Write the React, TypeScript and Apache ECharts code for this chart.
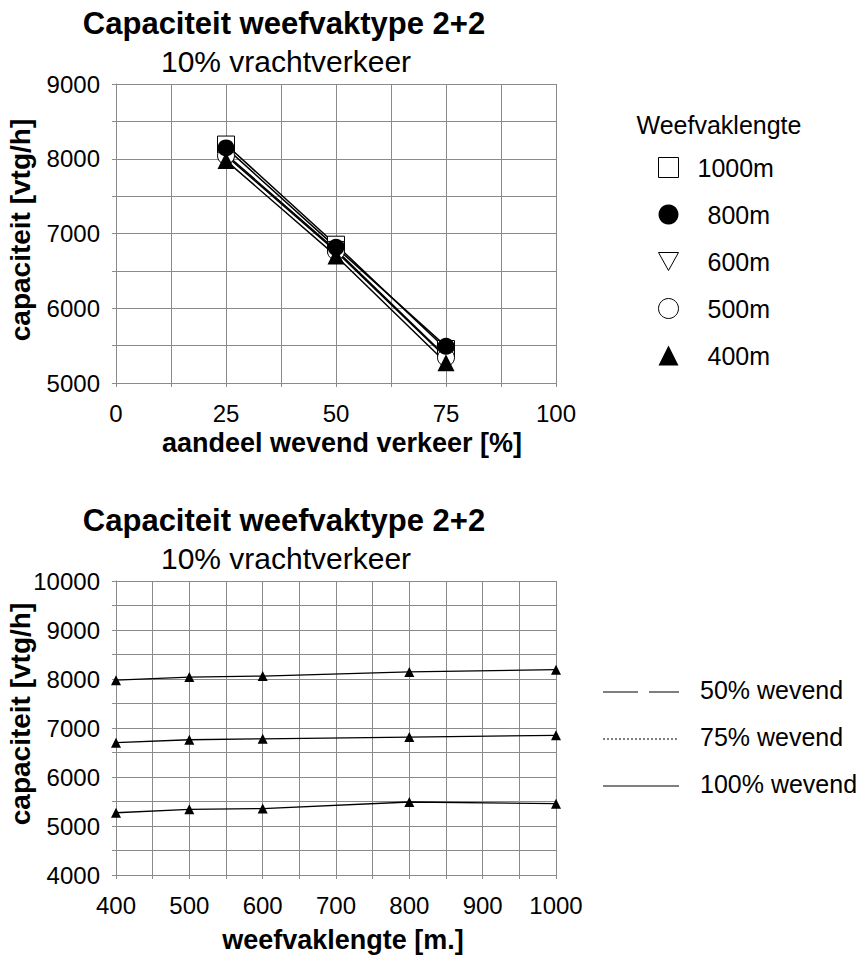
import React, { useEffect, useRef } from "react";
import * as echarts from "echarts";

// ---- data ----
const lengths = [400, 500, 600, 800, 1000]; // weefvaklengte [m]
const wevendShares = [25, 50, 75]; // aandeel wevend verkeer [%] (top chart x)
const cap50 = [7975, 8040, 8060, 8145, 8190]; // "50% wevend"
const cap75 = [6700, 6760, 6780, 6815, 6850]; // "75% wevend"
const cap100 = [5270, 5340, 5355, 5490, 5455]; // "100% wevend"
const wevendNames = ["50% wevend", "75% wevend", "100% wevend"];
const lengthNames = ["1000m", "800m", "600m", "500m", "400m"];
const lengthIdx = [4, 3, 2, 1, 0]; // index into lengths for each lengthNames item
const topXTicks = [0, 100, 25];
const topYTicks = [5000, 9000, 1000];
const botXTicks = [400, 1000, 100];
const botYTicks = [4000, 10000, 1000];

const FONT = "'Liberation Sans', Arial, sans-serif";
const GRID = "#8a8a8a";
const INV_TRI = "path://M0,0L10,0L5,9Z";

const symbolFor: Record<string, any> = {
  "1000m": { symbol: "rect", hollow: true, icon: "rect" },
  "800m": { symbol: "circle", hollow: false, icon: "circle" },
  "600m": { symbol: INV_TRI, hollow: true, icon: INV_TRI },
  "500m": { symbol: "circle", hollow: true, icon: "circle" },
  "400m": { symbol: "triangle", hollow: false, icon: "triangle" },
};

function styleFor(hollow: boolean) {
  return hollow
    ? { color: "#fff", borderColor: "#000", borderWidth: 1 }
    : { color: "#000", borderColor: "#000", borderWidth: 0 };
}

function axis(gridIndex: number, t: number[], margin: number) {
  return {
    type: "value",
    gridIndex,
    min: t[0],
    max: t[1],
    interval: t[2],
    axisLine: { show: true, onZero: false, lineStyle: { color: GRID, width: 1 } },
    axisTick: { show: true, inside: false, length: 4, lineStyle: { color: GRID } },
    minorTick: { show: true, splitNumber: 2, length: 4, lineStyle: { color: GRID } },
    splitLine: { show: true, lineStyle: { color: GRID, width: 1 } },
    minorSplitLine: { show: true, lineStyle: { color: GRID, width: 1 } },
    axisLabel: {
      color: "#000",
      fontSize: 24,
      fontFamily: FONT,
      margin,
      formatter: (v: number) => String(v),
    },
  };
}

function txt(text: string, x: number, y: number, size: number, bold: boolean, align = "center", rotation = 0) {
  return {
    type: "text",
    x,
    y,
    rotation,
    silent: true,
    style: {
      text,
      fontSize: size,
      fontWeight: bold ? "bold" : "normal",
      fontFamily: FONT,
      fill: "#000",
      align,
      verticalAlign: "middle",
      textAlign: align,
      textVerticalAlign: "middle",
    },
  };
}

export default function App() {
  const ref = useRef<HTMLDivElement>(null);

  useEffect(() => {
    if (!ref.current) return;
    const chart = echarts.init(ref.current, undefined, { renderer: "svg" });

    const drawOrder = ["1000m", "600m", "500m", "800m", "400m"];
    const topSeries = drawOrder.map((name) => {
      const i = lengthIdx[lengthNames.indexOf(name)];
      const s = symbolFor[name];
      const vals = [cap50[i], cap75[i], cap100[i]];
      return {
        name,
        type: "line",
        xAxisIndex: 0,
        yAxisIndex: 0,
        symbol: s.symbol,
        symbolSize: 17,
        showAllSymbol: true,
        lineStyle: { color: "#000", width: 1.5 },
        itemStyle: styleFor(s.hollow),
        data: wevendShares.map((x, k) => [x, vals[k]]),
      };
    });

    const botData = [cap50, cap75, cap100];
    const botSeries = wevendNames.map((name, k) => ({
      name,
      type: "line",
      xAxisIndex: 1,
      yAxisIndex: 1,
      symbol: "triangle",
      symbolSize: 10,
      lineStyle: { color: "#000", width: 1.3 },
      itemStyle: { color: "#000" },
      data: lengths.map((l, i) => [l, botData[k][i]]),
    }));

    const legendItems = lengthNames.map((name) => ({
      name,
      icon: symbolFor[name].icon,
      itemStyle: styleFor(symbolFor[name].hollow),
    }));

    const legendLineY = [692, 739, 786];
    const dashes: any[] = [[35, 11], [2, 2], null];

    chart.setOption({
      animation: false,
      backgroundColor: "#fff",
      grid: [
        { left: 116, top: 84, width: 440, height: 299, containLabel: false },
        { left: 116, top: 581, width: 440, height: 294, containLabel: false },
      ],
      xAxis: [axis(0, topXTicks, 18), axis(1, botXTicks, 18)],
      yAxis: [axis(0, topYTicks, 16), axis(1, botYTicks, 16)],
      legend: {
        orient: "vertical",
        left: 653,
        top: 150,
        padding: 5,
        itemWidth: 20,
        itemHeight: 20,
        itemGap: 22,
        selectedMode: false,
        data: legendItems,
        formatter: (name: string) => (name === "1000m" ? `{a|${name}}` : `{b|${name}}`),
        textStyle: {
          color: "#000",
          fontSize: 25,
          fontFamily: FONT,
          rich: {
            a: { fontSize: 25, fontFamily: FONT, color: "#000", padding: [0, 0, 0, 14] },
            b: { fontSize: 25, fontFamily: FONT, color: "#000", padding: [0, 0, 0, 24] },
          },
        },
      },
      graphic: [
        txt("Capaciteit weefvaktype 2+2", 284, 23, 31, true),
        txt("10% vrachtverkeer", 286, 61, 30, false),
        txt("aandeel wevend verkeer [%]", 342, 443, 27, true),
        txt("capaciteit [vtg/h]", 20, 230, 28, true, "center", Math.PI / 2),
        txt("Weefvaklengte", 719, 125, 25, false),
        txt("Capaciteit weefvaktype 2+2", 284, 520, 31, true),
        txt("10% vrachtverkeer", 286, 558, 30, false),
        txt("weefvaklengte [m.]", 343, 940, 27, true),
        txt("capaciteit [vtg/h]", 20, 714, 28, true, "center", Math.PI / 2),
        ...wevendNames.map((n, k) => txt(n, 700, legendLineY[k] - 2, 25, false, "left")),
        ...wevendNames.map((n, k) => ({
          type: "line",
          silent: true,
          shape: { x1: 603, y1: legendLineY[k], x2: 679, y2: legendLineY[k] },
          style: { stroke: "#000", lineWidth: 1, lineDash: dashes[k] || undefined },
        })),
      ],
      series: [...topSeries, ...botSeries],
    });

    return () => chart.dispose();
  }, []);

  return (
    <div
      ref={ref}
      style={{ position: "absolute", left: 0, top: 0, width: 867, height: 956, background: "#fff" }}
    />
  );
}
